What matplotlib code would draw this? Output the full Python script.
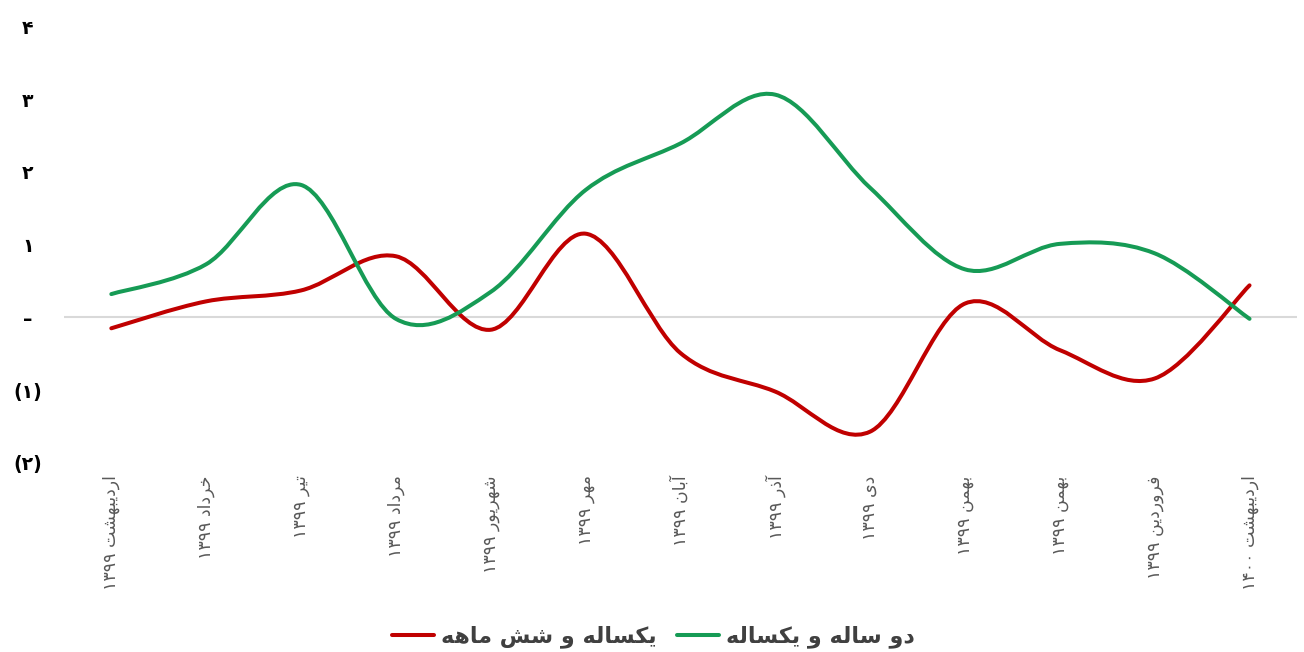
import matplotlib
matplotlib.use("Agg")
import matplotlib.pyplot as plt
from matplotlib.path import Path
from matplotlib.patches import PathPatch
from matplotlib.lines import Line2D

plt.rcParams["font.family"] = ["DejaVu Sans"]

# chart data
months = [
    "اردیبهشت ۱۳۹۹", "خرداد ۱۳۹۹", "تیر ۱۳۹۹", "مرداد ۱۳۹۹", "شهریور ۱۳۹۹",
    "مهر ۱۳۹۹", "آبان ۱۳۹۹", "آذر ۱۳۹۹", "دی ۱۳۹۹", "بهمن ۱۳۹۹",
    "بهمن ۱۳۹۹", "فروردین ۱۳۹۹", "اردیبهشت ۱۴۰۰",
]
one_year_six_month = [-0.15, 0.22, 0.37, 0.84, -0.17, 1.15, -0.49, -1.02, -1.57, 0.19, -0.45, -0.84, 0.44]
two_year_one_year = [0.32, 0.73, 1.82, -0.02, 0.35, 1.75, 2.39, 3.06, 1.78, 0.66, 1.01, 0.88, -0.02]
series_names = ["یکساله و شش ماهه", "دو ساله و یکساله"]
series_colors = ["#C00000", "#169B55"]
y_ticks = [-2, -1, 0, 1, 2, 3, 4]
y_tick_labels = ["(۲)", "(۱)", "–", "۱", "۲", "۳", "۴"]

# matplotlib has no arabic shaping, so pick presentation forms by hand
# (isolated, final, initial, medial) ; None = right-joining letter
FORMS = {
    "ا": ("\uFE8D", "\uFE8E", None, None),
    "آ": ("\uFE81", "\uFE82", None, None),
    "ب": ("\uFE8F", "\uFE90", "\uFE91", "\uFE92"),
    "ت": ("\uFE95", "\uFE96", "\uFE97", "\uFE98"),
    "خ": ("\uFEA5", "\uFEA6", "\uFEA7", "\uFEA8"),
    "د": ("\uFEA9", "\uFEAA", None, None),
    "ذ": ("\uFEAB", "\uFEAC", None, None),
    "ر": ("\uFEAD", "\uFEAE", None, None),
    "س": ("\uFEB1", "\uFEB2", "\uFEB3", "\uFEB4"),
    "ش": ("\uFEB5", "\uFEB6", "\uFEB7", "\uFEB8"),
    "ف": ("\uFED1", "\uFED2", "\uFED3", "\uFED4"),
    "ل": ("\uFEDD", "\uFEDE", "\uFEDF", "\uFEE0"),
    "م": ("\uFEE1", "\uFEE2", "\uFEE3", "\uFEE4"),
    "ن": ("\uFEE5", "\uFEE6", "\uFEE7", "\uFEE8"),
    "ه": ("\uFEE9", "\uFEEA", "\uFEEB", "\uFEEC"),
    "و": ("\uFEED", "\uFEEE", None, None),
    "ی": ("\uFBFC", "\uFBFD", "\uFBFE", "\uFBFF"),
    "ک": ("\uFB8E", "\uFB8F", "\uFB90", "\uFB91"),
}


def shape_word(w):
    out = []
    for i, ch in enumerate(w):
        if ch not in FORMS:
            out.append(ch)
            continue
        prev = w[i - 1] if i > 0 else None
        nxt = w[i + 1] if i + 1 < len(w) else None
        join_prev = prev in FORMS and FORMS[prev][2] is not None
        join_next = nxt in FORMS and FORMS[ch][2] is not None
        iso, fin, ini, med = FORMS[ch]
        if join_prev and join_next:
            out.append(med)
        elif join_prev:
            out.append(fin)
        elif join_next:
            out.append(ini)
        else:
            out.append(iso)
    return "".join(out)


def rtl(text):
    toks = []
    for t in text.split(" "):
        if any(c in FORMS for c in t):
            toks.append(shape_word(t)[::-1])
        else:
            toks.append(t)
    return " ".join(reversed(toks))


def smooth_path(ys):
    # excel-like smoothed line: cubic bezier through the points
    pts = list(zip(range(len(ys)), ys))
    verts = [pts[0]]
    codes = [Path.MOVETO]
    n = len(pts)
    for i in range(n - 1):
        p0 = pts[max(i - 1, 0)]
        p1 = pts[i]
        p2 = pts[i + 1]
        p3 = pts[min(i + 2, n - 1)]
        c1 = (p1[0] + (p2[0] - p0[0]) / 6, p1[1] + (p2[1] - p0[1]) / 6)
        c2 = (p2[0] - (p3[0] - p1[0]) / 6, p2[1] - (p3[1] - p1[1]) / 6)
        verts += [c1, c2, p2]
        codes += [Path.CURVE4] * 3
    return Path(verts, codes)


fig = plt.figure(figsize=(13.04, 6.52), dpi=100)
ax = fig.add_axes([0.049, 0.29, 0.9456, 0.6697])

ax.axhline(0, color="#D9D9D9", lw=1.5, zorder=1)

for ys, col in zip([one_year_six_month, two_year_one_year], series_colors):
    patch = PathPatch(smooth_path(ys), fill=False, edgecolor=col, lw=2.9,
                      capstyle="round", joinstyle="round", zorder=3)
    ax.add_patch(patch)

ax.set_xlim(-0.5, len(months) - 0.5)
ax.set_ylim(-2, 4)

ax.set_xticks(range(len(months)))
ax.set_xticklabels([rtl(m) for m in months], rotation=90, va="top", ha="center",
                   fontsize=12.5, color="#595959")
ax.set_yticks(y_ticks)
ax.set_yticklabels(y_tick_labels, fontsize=13.5, fontweight="bold", color="black")
for lab in ax.get_yticklabels():
    lab.set_horizontalalignment("center")
ax.tick_params(axis="y", length=0, pad=26)
ax.tick_params(axis="x", length=0, pad=9)
for s in ax.spines.values():
    s.set_visible(False)

handles = [Line2D([], [], color=c, lw=2.9, solid_capstyle="round") for c in series_colors]
fig.legend(handles, [rtl(n) for n in series_names], loc="center", ncol=2,
           bbox_to_anchor=(0.501, 0.023), frameon=False, handlelength=1.9,
           handletextpad=0.3, columnspacing=0.9,
           prop={"size": 16, "weight": "bold"}, labelcolor="#404040")

fig.savefig("out.png", dpi=100)
